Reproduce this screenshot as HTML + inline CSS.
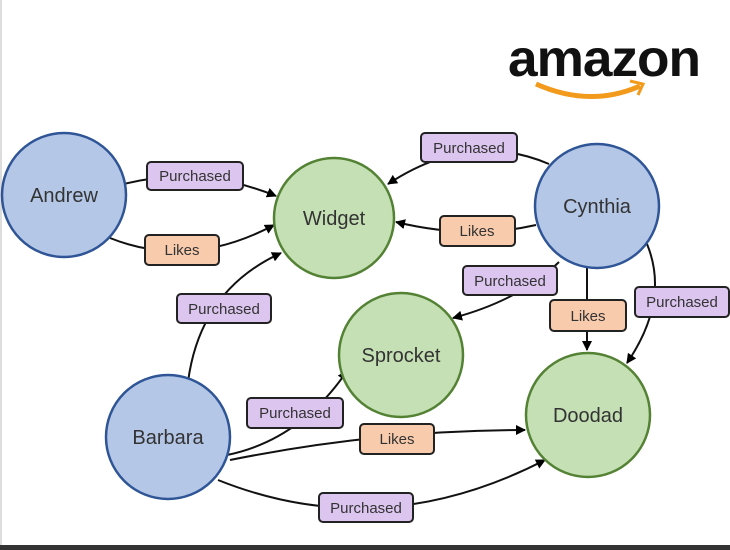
<!DOCTYPE html>
<html><head><style>
body{margin:0;background:#fff;}
svg{display:block;font-family:"Liberation Sans",sans-serif;}
</style></head><body>
<svg width="730" height="550" viewBox="0 0 730 550">
<defs><marker id="a" markerWidth="10" markerHeight="10" refX="9" refY="5" orient="auto" markerUnits="userSpaceOnUse"><path d="M0,0 L10,5 L0,10 z" fill="#000"/></marker></defs>
<rect x="0" y="0" width="2" height="550" fill="#ddd"/>
<rect x="0" y="545" width="730" height="5" fill="#333"/>
<text x="604" y="76" font-size="52" font-weight="bold" text-anchor="middle" fill="#111" letter-spacing="-1" textLength="192" lengthAdjust="spacingAndGlyphs">amazon</text>
<path d="M536,84 Q590,108 640,86" stroke="#f29a1b" stroke-width="5" fill="none"/>
<path d="M630,81 L643,84 L638,95" stroke="#f29a1b" stroke-width="3" fill="none"/>
<g stroke="#111" stroke-width="2" fill="none">
<path d="M124,184 Q200,165 276,196" marker-end="url(#a)"/>
<path d="M110,238 Q190,270 274,225" marker-end="url(#a)"/>
<path d="M188,382 Q200,290 281,253" marker-end="url(#a)"/>
<path d="M549,164 Q470,130 388,184" marker-end="url(#a)"/>
<path d="M536,225 Q470,240 396,222" marker-end="url(#a)"/>
<path d="M559,262 Q520,300 453,318" marker-end="url(#a)"/>
<path d="M587,268 L587,350" marker-end="url(#a)"/>
<path d="M647,244 Q670,300 627,363" marker-end="url(#a)"/>
<path d="M227,455 Q300,440 347,371" marker-end="url(#a)"/>
<path d="M230,460 Q380,430 525,430" marker-end="url(#a)"/>
<path d="M218,480 Q380,545 545,460" marker-end="url(#a)"/>
</g>
<g stroke-width="2.5">
<circle cx="64" cy="195" r="62" fill="#b4c7e7" stroke="#2f5597"/>
<circle cx="597" cy="206" r="62" fill="#b4c7e7" stroke="#2f5597"/>
<circle cx="168" cy="437" r="62" fill="#b4c7e7" stroke="#2f5597"/>
<circle cx="334" cy="218" r="60" fill="#c5e0b4" stroke="#548235"/>
<circle cx="401" cy="355" r="62" fill="#c5e0b4" stroke="#548235"/>
<circle cx="588" cy="415" r="62" fill="#c5e0b4" stroke="#548235"/>
</g>
<g font-size="20" fill="#333" text-anchor="middle">
<text x="64" y="202">Andrew</text>
<text x="597" y="213">Cynthia</text>
<text x="168" y="444">Barbara</text>
<text x="334" y="225">Widget</text>
<text x="401" y="362">Sprocket</text>
<text x="588" y="422">Doodad</text>
</g>
<g stroke="#222" stroke-width="2" font-size="15" text-anchor="middle">
<g fill="#dcc6f0"><rect x="147" y="162" width="96" height="28" rx="4"/>
<rect x="177" y="294" width="94" height="29" rx="4"/>
<rect x="421" y="133" width="96" height="29" rx="4"/>
<rect x="463" y="266" width="94" height="29" rx="4"/>
<rect x="635" y="287" width="94" height="30" rx="4"/>
<rect x="247" y="398" width="96" height="30" rx="4"/>
<rect x="319" y="493" width="94" height="29" rx="4"/></g>
<g fill="#f8cbad"><rect x="145" y="235" width="74" height="30" rx="4"/>
<rect x="440" y="216" width="75" height="30" rx="4"/>
<rect x="550" y="300" width="76" height="31" rx="4"/>
<rect x="360" y="424" width="74" height="30" rx="4"/></g>
<g stroke="none" fill="#333">
<text x="195" y="181">Purchased</text>
<text x="224" y="314">Purchased</text>
<text x="469" y="153">Purchased</text>
<text x="510" y="286">Purchased</text>
<text x="682" y="307">Purchased</text>
<text x="295" y="418">Purchased</text>
<text x="366" y="513">Purchased</text>
<text x="182" y="255">Likes</text>
<text x="477" y="236">Likes</text>
<text x="588" y="321">Likes</text>
<text x="397" y="444">Likes</text>
</g></g>
</svg>
</body></html>
